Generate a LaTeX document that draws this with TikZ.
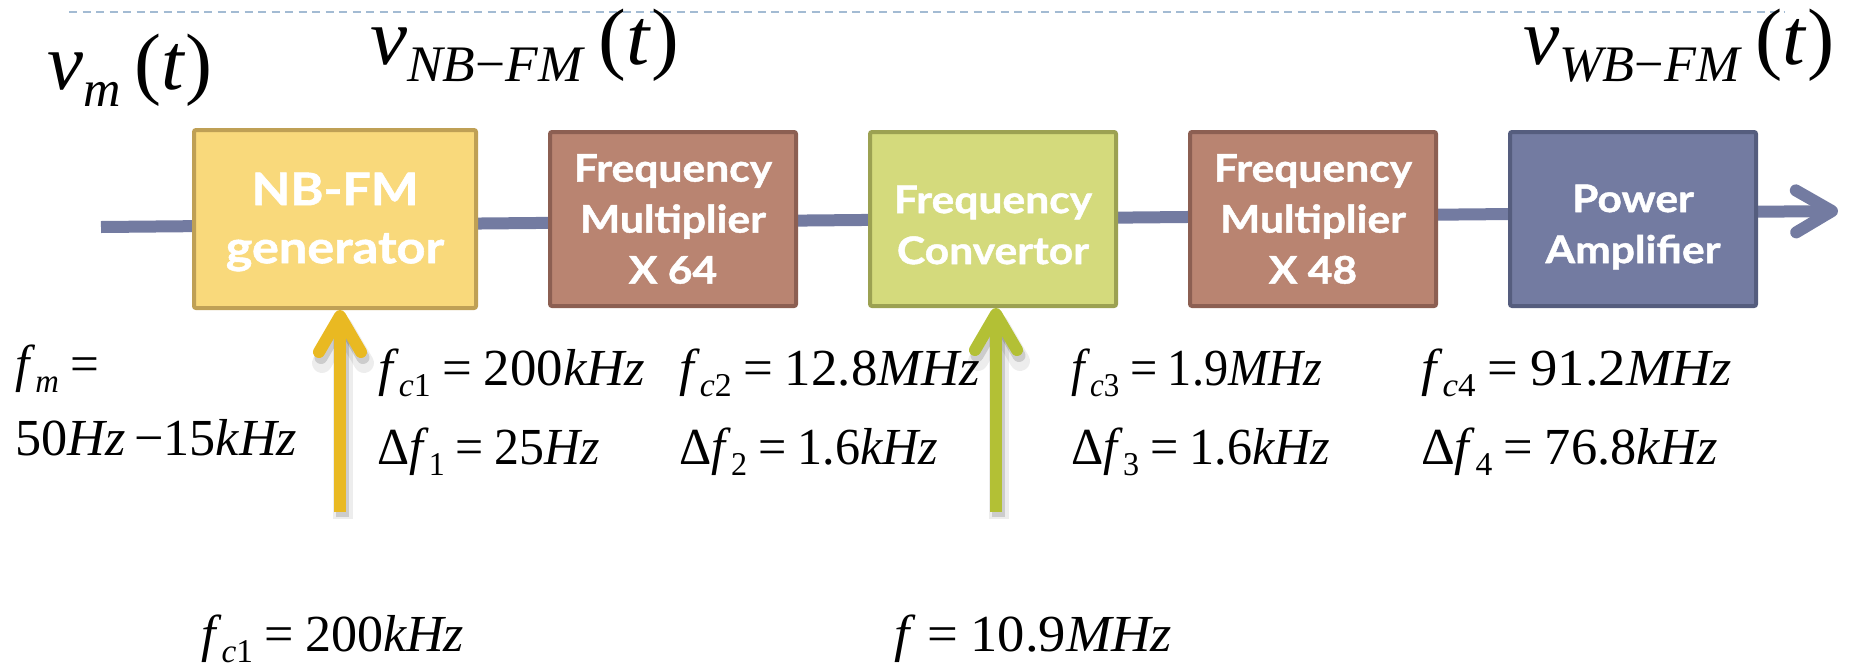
\documentclass[tikz,border=0pt]{standalone}
\usepackage{fontspec}
\newfontfamily\boxfont{Lato}[FakeStretch=1.12, BoldFeatures={FakeBold=1.2}]
\newfontfamily\tms{Liberation Serif}
\usetikzlibrary{arrows.meta}
\definecolor{yfill}{HTML}{F9D97B}
\definecolor{ydraw}{HTML}{BFA055}
\definecolor{bfill}{HTML}{B98471}
\definecolor{bdraw}{HTML}{8C5F52}
\definecolor{gfill}{HTML}{D4DA7C}
\definecolor{gdraw}{HTML}{9CA152}
\definecolor{pfill}{HTML}{737BA1}
\definecolor{pdraw}{HTML}{555D7E}
\definecolor{linec}{HTML}{737BA1}
\definecolor{yarrow}{HTML}{E9B922}
\definecolor{garrow}{HTML}{B3C035}
\definecolor{dashc}{HTML}{A3BBD3}
% formula helpers (Times-like text)
\newcommand\sbs[1]{\raisebox{-0.22em}{\scalebox{0.64}{#1}}}
\newcommand\eqs{\hspace{0.22em}=\hspace{0.22em}}
\newcommand\fw[2]{\resizebox{#1pt}{\height}{#2}}
% lower a line of box text without changing its box
\newcommand\dn[2]{\raisebox{-#1pt}[\height][\depth]{#2}}
\tikzset{
  blk/.style={draw, line width=4pt, rounded corners=2pt, minimum width=246pt,
    minimum height=174pt, inner sep=0pt, align=center, text=white,
    font=\boxfont\bfseries\fontsize{38}{51}\selectfont},
  tipb/.tip={Straight Barb[length=36pt,width=42pt,round]},
  mainline/.style={line width=12pt, draw=linec, -tipb},
  uparrow/.style={line width=12pt, -tipb},
  shadowwide/.style={line width=20pt, draw=black, opacity=0.07, -tipb,
    transform canvas={shift={(3,7)}}},
  shadowline/.style={line width=13pt, draw=black, opacity=0.14, -tipb,
    transform canvas={shift={(2,5)}}},
  mbig/.style={inner sep=0pt, anchor=base west, font=\tms\fontsize{80}{90}\selectfont},
  mmid/.style={inner sep=0pt, anchor=base west, font=\tms\fontsize{52}{60}\selectfont},
}
\begin{document}
\begin{tikzpicture}[x=1pt,y=-1pt]
\useasboundingbox (0,0) rectangle (1851,667);
% top dashed rule
\coordinate (dl) at (69,12);
\coordinate (dr) at (1785,12);
\draw[dashc, line width=2pt, dash pattern=on 8pt off 5.5pt] (dl) -- (dr);
% main signal line
\coordinate (in) at (101,227);
\coordinate (out) at (1838,211);
\draw[mainline] (in) -- (out);
% blocks
\node[blk, fill=yfill, draw=ydraw, minimum width=282pt, minimum height=178pt,
  font=\boxfont\bfseries\fontsize{45}{58}\selectfont] (b1) at (335,219)
  {\dn{3}{NB-FM}\\\dn{3}{generator}};
\node[blk, fill=bfill, draw=bdraw] (b2) at (673,219) {Frequency\\Multiplier\\X 64};
\node[blk, fill=gfill, draw=gdraw] (b3) at (993,219) {\dn{6}{Frequency}\\\dn{6}{Convertor}};
\node[blk, fill=bfill, draw=bdraw] (b4) at (1313,219) {Frequency\\Multiplier\\X 48};
\node[blk, fill=pfill, draw=pdraw] (b5) at (1633,219) {\dn{8}{Power}\\\dn{8}{Amplifier}};
% carrier inputs
\coordinate (ytail) at (340,512);
\coordinate (gtail) at (996,512);
\draw[shadowwide] (ytail) -- (ytail |- b1.south);
\draw[shadowline] (ytail) -- (ytail |- b1.south);
\draw[uparrow, draw=yarrow] (ytail) -- (ytail |- b1.south);
\draw[shadowwide] (gtail) -- (gtail |- b3.south);
\draw[shadowline] (gtail) -- (gtail |- b3.south);
\draw[uparrow, draw=garrow] (gtail) -- (gtail |- b3.south);
% signal labels
\node[mbig] (vm) at (47,89) {\fw{165}{\textit{v}\sbs{\textit{m}}\,(\textit{t})}};
\node[mbig] (vnb) at (370,64) {\fw{309}{\textit{v}\sbs{\textit{NB}−\textit{FM}}\,(\textit{t})}};
\node[mbig] (vwb) at (1523,64) {\fw{311}{\textit{v}\sbs{\textit{WB}−\textit{FM}}\,(\textit{t})}};
% frequency labels
\node[mmid] (fm) at (15,381) {\fw{95}{\textit{f}\sbs{\textit{m}}\eqs}};
\node[mmid] (fmr) at (15,455) {\fw{282}{50\textit{Hz}\,−15\textit{kHz}}};
\node[mmid] (fc1) at (378,385) {\fw{267}{\textit{f}\sbs{\textit{c}1}\eqs 200\textit{kHz}}};
\node[mmid] (df1) at (377,464) {\fw{223}{Δ\textit{f}\sbs{1}\eqs 25\textit{Hz}}};
\node[mmid] (fc2) at (679,385) {\fw{301}{\textit{f}\sbs{\textit{c}2}\eqs 12.8\textit{MHz}}};
\node[mmid] (df2) at (679,464) {\fw{259}{Δ\textit{f}\sbs{2}\eqs 1.6\textit{kHz}}};
\node[mmid] (fc3) at (1071,385) {\fw{251}{\textit{f}\sbs{\textit{c}3}\eqs 1.9\textit{MHz}}};
\node[mmid] (df3) at (1071,464) {\fw{259}{Δ\textit{f}\sbs{3}\eqs 1.6\textit{kHz}}};
\node[mmid] (fc4) at (1421,385) {\fw{311}{\textit{f}\sbs{\textit{c}4}\eqs 91.2\textit{MHz}}};
\node[mmid] (df4) at (1421,464) {\fw{297}{Δ\textit{f}\sbs{4}\eqs 76.8\textit{kHz}}};
\node[mmid] (osc1) at (201,651) {\fw{263}{\textit{f}\sbs{\textit{c}1}\eqs 200\textit{kHz}}};
\node[mmid] (osc2) at (894,651) {\fw{278}{\textit{f}\eqs 10.9\textit{MHz}}};
\end{tikzpicture}
\end{document}
